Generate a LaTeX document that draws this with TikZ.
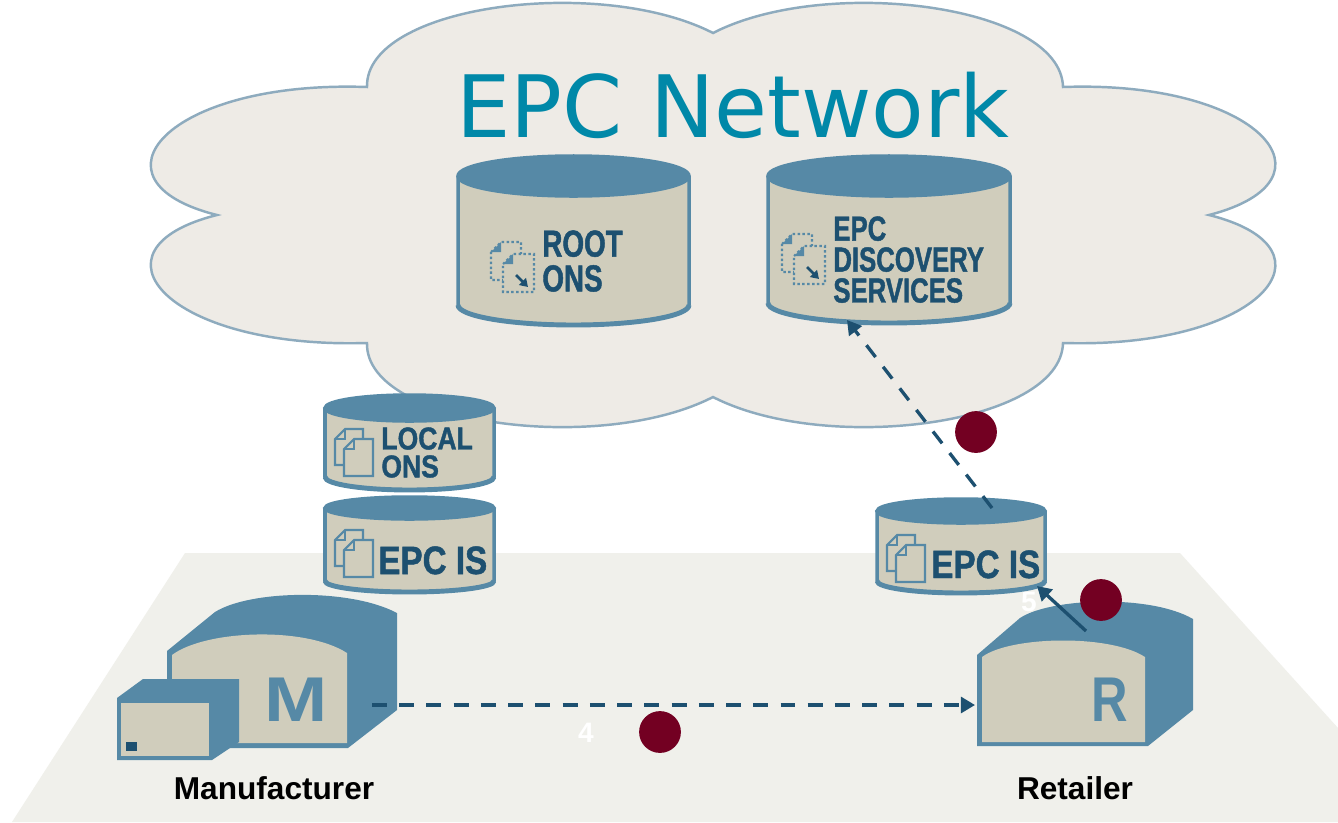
\documentclass[tikz,border=0pt]{standalone}
\usepackage{fontspec}
\usepackage{graphicx}
\usetikzlibrary{arrows.meta,calc}
\setmainfont{Liberation Sans}
\newfontfamily\titlefont{DejaVu Sans}
\newfontfamily\drumfont{Liberation Sans}[FakeStretch=0.74,FakeBold=1.2]
\newfontfamily\drumwide{Liberation Sans}[FakeStretch=0.84,FakeBold=1.2]

\definecolor{steel}{RGB}{86,137,166}
\definecolor{drumface}{RGB}{208,205,188}
\definecolor{navy}{RGB}{29,80,112}
\definecolor{cloudfill}{RGB}{238,235,230}
\definecolor{cloudline}{RGB}{142,171,190}
\definecolor{floorgrey}{RGB}{240,240,235}
\definecolor{epcteal}{RGB}{0,136,168}
\definecolor{marker}{RGB}{115,0,34}

\tikzset{
  drumline/.style={draw=steel, line width=2pt},
  drumtext/.style={text=navy, inner sep=0, align=left},
  shed/.style={fill=steel},
  shedface/.style={fill=drumface},
  shedletter/.style={text=steel, inner sep=0, font=\bfseries\fontsize{36}{36}\selectfont},
  site/.style={inner sep=0, font=\bfseries\fontsize{18}{18}\selectfont},
  flow/.style={draw=navy, line width=1.9pt, dash pattern=on 8.5pt off 7pt, -{Triangle[length=8pt,width=9pt]}},
  query/.style={draw=navy, line width=1.9pt, -{Triangle[length=8pt,width=9pt]}},
  stepdot/.style={circle, fill=marker, minimum size=23.8pt, inner sep=0},
  stepnum/.style={text=white, inner sep=0, font=\bfseries\fontsize{16}{16}\selectfont},
  dots/.style={line width=1.2pt, dash pattern=on 1.4pt off 1.4pt},
  % two sheets with a folded corner
  pages/.pic={
    \filldraw[draw=steel, fill=drumface, line width=1.2pt] (0,10) -- (10,0) -- (28,0) -- (28,36) -- (0,36) -- cycle;
    \draw[steel, line width=1.2pt] (0,10) -- (10,10) -- (10,0);
    \filldraw[draw=steel, fill=drumface, line width=1.2pt] (9,20) -- (19,10) -- (38,10) -- (38,47) -- (9,47) -- cycle;
    \draw[steel, line width=1.2pt] (9,20) -- (19,20) -- (19,10);
  },
  dotpages/.pic={
    \filldraw[draw=steel, fill=drumface, dots] (0,10) -- (10,0) -- (30,0) -- (30,38) -- (0,38) -- cycle;
    \fill[steel] (0,10) -- (10,0) -- (10,10) -- cycle;
    \filldraw[draw=steel, fill=drumface, dots] (12,22) -- (22,12) -- (43,12) -- (43,50) -- (12,50) -- cycle;
    \fill[steel] (12,22) -- (22,12) -- (22,22) -- cycle;
    \draw[navy, line width=1.6pt, -{Triangle[length=4.5pt,width=5.5pt]}] (25,33) -- (37,45);
  }
}

% name, centre x, top y, bottom y, half width, rim radius
\newcommand\drum[6]{%
  \filldraw[fill=drumface, drumline] (#2-#5,#3) -- (#2-#5,#4)
    arc[start angle=180, end angle=0, x radius=#5, y radius=#6] -- (#2+#5,#3);
  \draw[drumline, line width=2.8pt] (#2-#5,#4)
    arc[start angle=180, end angle=0, x radius=#5, y radius=#6];
  \filldraw[fill=steel, drumline] (#2,#3) ellipse[x radius=#5, y radius=#6];
  \coordinate (#1) at (#2,{(#3+#4)/2});
  \coordinate (#1-top) at (#2,#3-#6);
  \coordinate (#1-bot) at (#2,#4+#6);
}

\begin{document}
\begin{tikzpicture}[x=0.02cm, y=-0.02cm]
  \fill[white] (0,0) rectangle (1338,822);
  \useasboundingbox (0,0) rectangle (1338,822);

  % ground
  \fill[floorgrey] (185,553) -- (1180,553) -- (1338,728) -- (1338,822) -- (12,822) -- cycle;

  % cloud
  \filldraw[fill=cloudfill, draw=cloudline, line width=1.4pt]
    (713,33) .. controls (826,-25) and (1061,5) .. (1063,87)
    .. controls (1260,80) and (1345,180) .. (1209,215)
    .. controls (1345,249) and (1260,349) .. (1063,343)
    .. controls (1061,425) and (826,455) .. (713,397)
    .. controls (600,455) and (365,425) .. (367,343)
    .. controls (166,349) and (81,249) .. (217,215)
    .. controls (81,181) and (166,80) .. (367,87)
    .. controls (365,5) and (600,-25) .. (713,33) -- cycle;
  \node[font=\titlefont\fontsize{49}{49}\selectfont, text=epcteal, anchor=base, inner sep=0] (title) at (733,137) {EPC Network};

  % manufacturer
  \fill[shed] (167,651) -- (215,612) .. controls (250,590) and (350,588) .. (397,613)
    -- (397,710) -- (348,748) -- (167,748) -- cycle;
  \fill[shedface] (172,655) .. controls (205,630) and (305,626) .. (347,653) -- (347,743) -- (172,743) -- cycle;
  \node[shedletter] (mfr) at (296,700) {\scalebox{1.2}[1]{M}};
  \fill[shed] (117,698) -- (143,679) -- (239,679) -- (239,742) -- (212,760) -- (117,760) -- cycle;
  \fill[shedface] (121,703) rectangle (209,756);
  \fill[navy] (126,742) rectangle (137,751);

  % retailer
  \fill[shed] (977,655) -- (1020,618) .. controls (1050,598) and (1150,594) .. (1193,619)
    -- (1193,710) -- (1148,746) -- (977,746) -- cycle;
  \fill[shedface] (982,657) .. controls (1010,636) and (1110,634) .. (1145,657) -- (1145,742) -- (982,742) -- cycle;
  \node[shedletter] (rtl) at (1110,700) {\scalebox{0.8}[1]{R}};

  \node[stepnum] (n4) at (586,733) {4};
  \node[stepnum] (n5) at (1029,602) {5};

  % databases
  \drum{root}{573.5}{176}{305}{115.5}{20}
  \pic at (491,242) {dotpages};
  \node[drumtext, anchor=north west, font=\drumfont\bfseries\fontsize{21.4}{19.8}\selectfont] (rootlbl) at (542,230) {ROOT\\ONS};

  \drum{disc}{889}{176}{303}{121}{20}
  \pic at (782,234) {dotpages};
  \node[drumtext, anchor=north west, font=\drumfont\bfseries\fontsize{19.8}{17.6}\selectfont] (disclbl) at (833,216) {EPC\\DISCOVERY\\SERVICES};

  \drum{lons}{409.5}{408}{477}{84.5}{13}
  \pic at (335,429) {pages};
  \node[drumtext, anchor=north west, font=\drumwide\bfseries\fontsize{18}{15.9}\selectfont] (lonslbl) at (381,427) {LOCAL\\ONS};

  \drum{episl}{409.5}{508}{581}{84.5}{11}
  \pic at (335,530) {pages};
  \node[drumtext, anchor=base west, font=\drumwide\bfseries\fontsize{22.5}{22.5}\selectfont] (islbl) at (378,574) {EPC IS};

  \drum{episr}{961}{511}{581}{84}{12}
  \pic at (887,535) {pages};
  \node[drumtext, anchor=base west, font=\drumwide\bfseries\fontsize{22.5}{22.5}\selectfont] (isrlbl) at (931,578) {EPC IS};

  % messages
  \coordinate (mfrport) at (372,705);
  \coordinate (rtlport) at (975,705);
  \coordinate (rtlroof) at (1086,631);
  \draw[flow] (mfrport) -- (rtlport);
  \draw[flow] ($(episr-top)+(31,9)$) -- ($(disc-bot)+(-42,-3)$);
  \draw[query] (rtlroof) -- ($(episr-bot)+(76,-7)$);

  \node[stepdot] (d4) at (660,732) {};
  \node[stepdot] (d3) at (976,432) {};
  \node[stepdot] (d5) at (1101,600) {};

  \node[site, anchor=base] (mfrname) at (274,799) {Manufacturer};
  \node[site, anchor=base] (rtlname) at (1075,799) {Retailer};
\end{tikzpicture}
\end{document}
